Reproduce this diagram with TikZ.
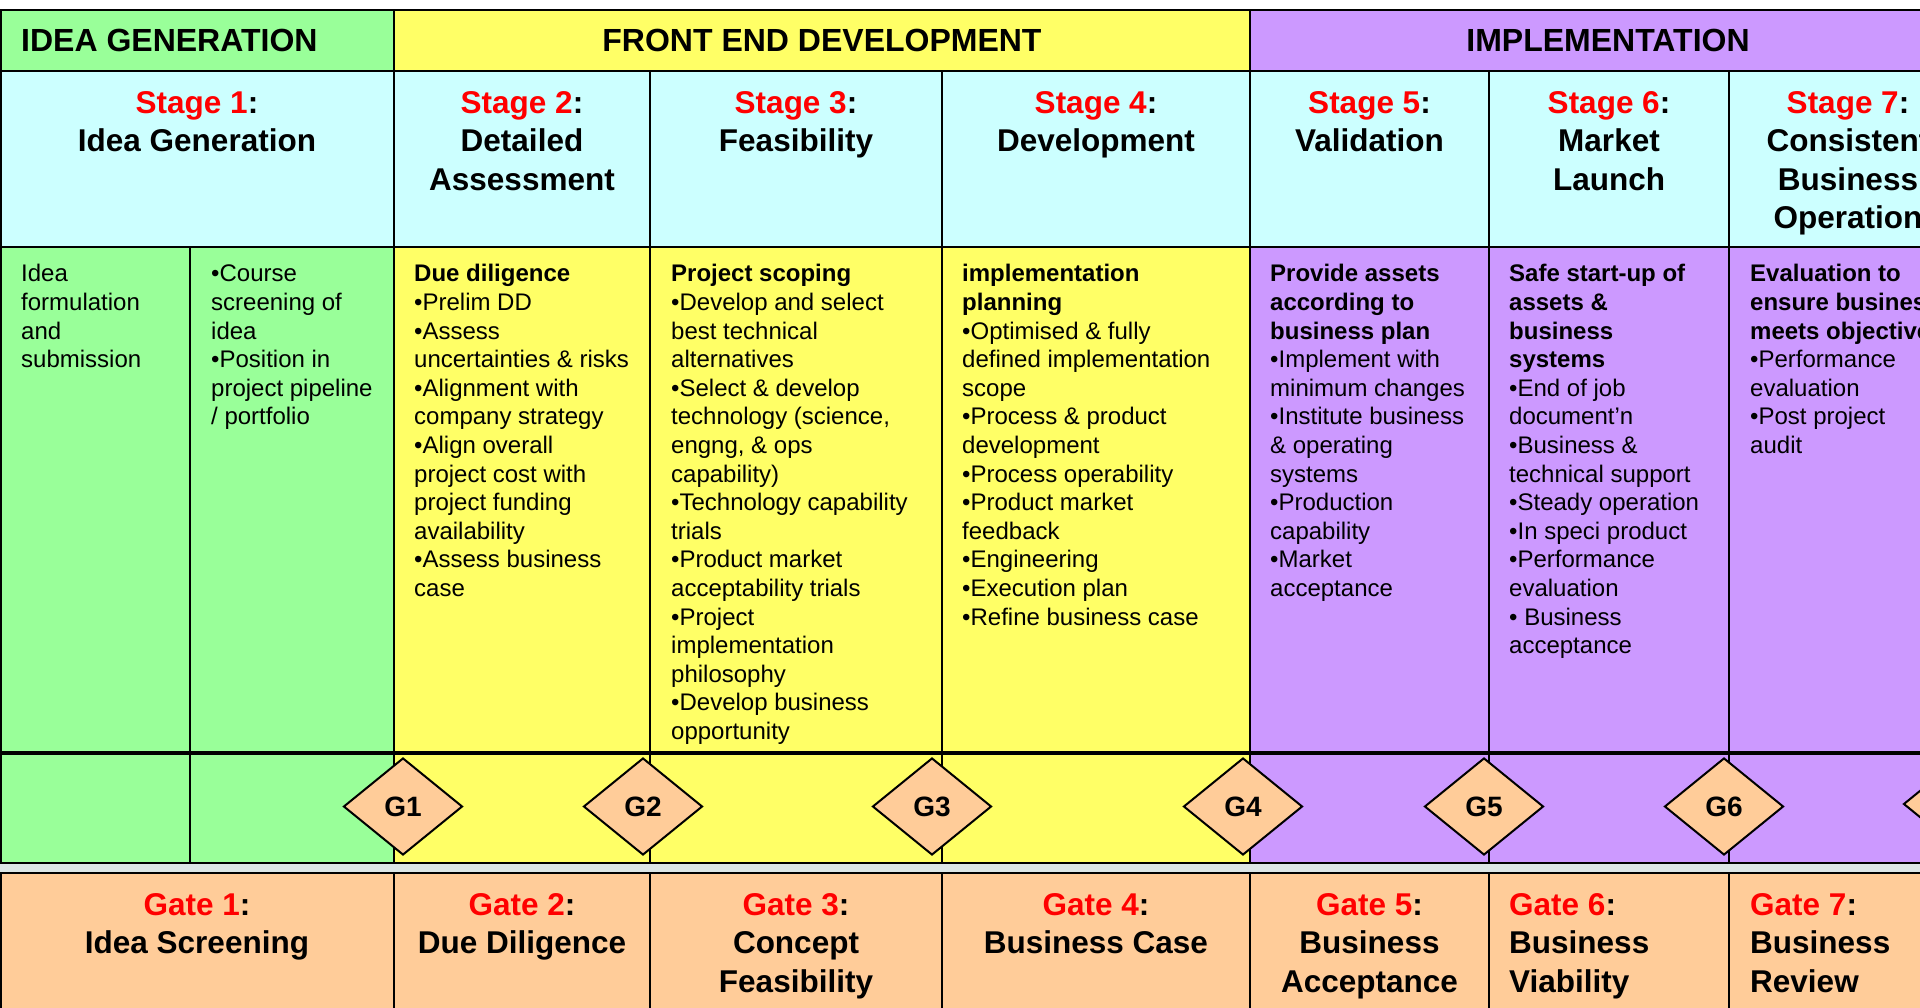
\documentclass[tikz,border=0pt]{standalone}
\usepackage{fontspec}
\setmainfont{Liberation Sans}
\usetikzlibrary{shapes.geometric}
\definecolor{cgreen}{HTML}{99FF99}
\definecolor{cyellow}{HTML}{FFFF66}
\definecolor{cpurple}{HTML}{CC99FF}
\definecolor{ccyan}{HTML}{CCFFFF}
\definecolor{cpeach}{HTML}{FFCC99}
\definecolor{cred}{HTML}{FF0000}
\definecolor{cgap}{HTML}{DCE6E6}
\newcommand{\firstln}[1]{\rule{0pt}{#1pt}}
\newcommand{\rd}[1]{\textcolor{cred}{#1}}
\begin{document}
\begin{tikzpicture}[x=1pt,y=-1pt,
  hline/.style={draw=black,line width=2.6pt},
  vline/.style={draw=black,line width=2pt},
  hdr/.style={font=\fontsize{32}{38}\selectfont\bfseries,inner sep=0pt},
  stg/.style={font=\fontsize{31.5}{38.5}\selectfont\bfseries,align=center,anchor=north,inner sep=0pt},
  gtl/.style={font=\fontsize{31.5}{38.5}\selectfont\bfseries,align=left,anchor=north west,inner sep=0pt},
  txt/.style={font=\fontsize{24}{28.6}\selectfont,align=left,anchor=north west,inner sep=0pt},
  gate/.style={diamond,draw=black,line width=2pt,fill=cpeach,minimum width=119pt,minimum height=97pt,inner sep=0pt,font=\fontsize{28}{32}\selectfont\bfseries}
]
\useasboundingbox (0,0) rectangle (1920,1008);
\clip (0,0) rectangle (1920,1008);
\fill[white] (0,0) rectangle (1920,1008);
% header row
\fill[cgreen] (0,10) rectangle (394,71);
\fill[cyellow] (394,10) rectangle (1250,71);
\fill[cpurple] (1250,10) rectangle (1967,71);
% stage row
\fill[ccyan] (0,71) rectangle (1967,247);
% content and gate rows
\fill[cgreen] (0,247) rectangle (394,863);
\fill[cyellow] (394,247) rectangle (1250,863);
\fill[cpurple] (1250,247) rectangle (1967,863);
% gap
\fill[cgap] (0,863) rectangle (1967,873);
% gate title row
\fill[cpeach] (0,873) rectangle (1967,1012);
% horizontal lines
\draw[hline] (0,10) -- (1967,10);
\draw[hline] (0,71) -- (1967,71);
\draw[hline] (0,247) -- (1967,247);
\draw[hline,line width=4pt] (0,753) -- (1967,753);
\draw[hline] (0,863) -- (1967,863);
\draw[hline] (0,873) -- (1967,873);
% vertical lines
\draw[vline] (1,10) -- (1,863);
\draw[vline] (1,873) -- (1,1012);
\draw[vline] (190,247) -- (190,863);
\draw[vline] (394,10) -- (394,863);
\draw[vline] (394,873) -- (394,1012);
\draw[vline] (1250,10) -- (1250,863);
\draw[vline] (1250,873) -- (1250,1012);
\foreach \xx in {650,942,1489,1729}{
  \draw[vline] (\xx,71) -- (\xx,863);
  \draw[vline] (\xx,873) -- (\xx,1012);
}
% gate diamonds
\node[gate] (g1) at (403,806.5) {G1};
\node[gate] (g2) at (643,806.5) {G2};
\node[gate] (g3) at (932,806.5) {G3};
\node[gate] (g4) at (1243,806.5) {G4};
\node[gate] (g5) at (1484,806.5) {G5};
\node[gate] (g6) at (1724,806.5) {G6};
\node[gate] (g7) at (1963,804) {G7};
% header texts
\node[hdr,anchor=base west] (h1) at (21,52) {IDEA GENERATION};
\node[hdr,anchor=base] (h2) at (822,52) {FRONT END DEVELOPMENT};
\node[hdr,anchor=base] (h3) at (1608,52) {IMPLEMENTATION};
% stage titles
\node[stg] (s1) at (197,86) {\firstln{27}\rd{Stage 1}:\\Idea Generation};
\node[stg] (s2) at (522,86) {\firstln{27}\rd{Stage 2}:\\Detailed\\Assessment};
\node[stg] (s3) at (796,86) {\firstln{27}\rd{Stage 3}:\\Feasibility};
\node[stg] (s4) at (1096,86) {\firstln{27}\rd{Stage 4}:\\Development};
\node[stg] (s5) at (1369.5,86) {\firstln{27}\rd{Stage 5}:\\Validation};
\node[stg] (s6) at (1609,86) {\firstln{27}\rd{Stage 6}:\\Market\\Launch};
\node[stg] (s7) at (1848,86) {\firstln{27}\rd{Stage 7}:\\Consistent\\Business\\Operation};
% content texts
\node[txt] (c1a) at (21,261.7) {\firstln{20}Idea\\formulation\\and\\submission};
\node[txt] (c1b) at (211,261.7) {\firstln{20}•Course\\screening of\\idea\\•Position in\\project pipeline\\/ portfolio};
\node[txt] (c2) at (414,261.7) {\firstln{20}\textbf{Due diligence}\\•Prelim DD\\•Assess\\uncertainties \& risks\\•Alignment with\\company strategy\\•Align overall\\project cost with\\project funding\\availability\\•Assess business\\case};
\node[txt] (c3) at (671,261.7) {\firstln{20}\textbf{Project scoping}\\•Develop and select\\best technical\\alternatives\\•Select \& develop\\technology (science,\\engng, \& ops\\capability)\\•Technology capability\\trials\\•Product market\\acceptability trials\\•Project\\implementation\\philosophy\\•Develop business\\opportunity};
\node[txt] (c4) at (962,261.7) {\firstln{20}\textbf{implementation}\\\textbf{planning}\\•Optimised \& fully\\defined implementation\\scope\\•Process \& product\\development\\•Process operability\\•Product market\\feedback\\•Engineering\\•Execution plan\\•Refine business case};
\node[txt] (c5) at (1270,261.7) {\firstln{20}\textbf{Provide assets}\\\textbf{according to}\\\textbf{business plan}\\•Implement with\\minimum changes\\•Institute business\\\& operating\\systems\\•Production\\capability\\•Market\\acceptance};
\node[txt] (c6) at (1509,261.7) {\firstln{20}\textbf{Safe start-up of}\\\textbf{assets \&}\\\textbf{business}\\\textbf{systems}\\•End of job\\document’n\\•Business \&\\technical support\\•Steady operation\\•In speci product\\•Performance\\evaluation\\• Business\\acceptance};
\node[txt] (c7) at (1750,261.7) {\firstln{20}\textbf{Evaluation to}\\\textbf{ensure business}\\\textbf{meets objectives}\\•Performance\\evaluation\\•Post project\\audit};
% gate titles
\node[stg] (t1) at (197,888) {\firstln{27}\rd{Gate 1}:\\Idea Screening};
\node[stg] (t2) at (522,888) {\firstln{27}\rd{Gate 2}:\\Due Diligence};
\node[stg] (t3) at (796,888) {\firstln{27}\rd{Gate 3}:\\Concept\\Feasibility};
\node[stg] (t4) at (1096,888) {\firstln{27}\rd{Gate 4}:\\Business Case};
\node[stg] (t5) at (1369.5,888) {\firstln{27}\rd{Gate 5}:\\Business\\Acceptance};
\node[gtl] (t6) at (1509,888) {\firstln{27}\rd{Gate 6}:\\Business\\Viability};
\node[gtl] (t7) at (1750,888) {\firstln{27}\rd{Gate 7}:\\Business\\Review};
\end{tikzpicture}
\end{document}
